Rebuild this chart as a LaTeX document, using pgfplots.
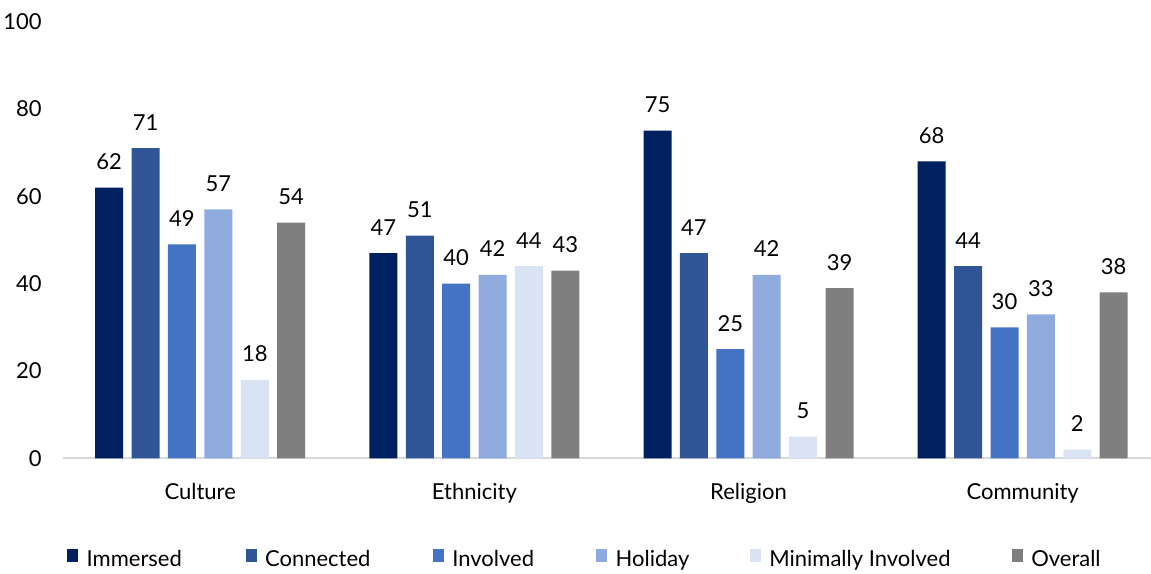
\documentclass[border=0pt]{standalone}
\usepackage{fontspec}
\setmainfont{Lato}
\usepackage{pgfplots}
\pgfplotsset{compat=1.18}
\definecolor{cImm}{HTML}{002060}
\definecolor{cCon}{HTML}{2F5597}
\definecolor{cInv}{HTML}{4472C4}
\definecolor{cHol}{HTML}{8FAADC}
\definecolor{cMin}{HTML}{DAE3F3}
\definecolor{cOve}{HTML}{7F7F7F}
\definecolor{axgray}{HTML}{D9D9D9}
\begin{document}
\begin{tikzpicture}[font=\fontsize{11}{13}\selectfont]
\path[use as bounding box] (-31.55pt,-57.75pt) rectangle (544pt,229.25pt);
\begin{axis}[
  at={(0,0)}, anchor=south west,
  scale only axis, width=544pt, height=218.5pt,
  xmin=-0.5, xmax=3.468, ymin=0, ymax=100,
  ybar=4.2pt, bar width=14pt,
  axis x line=bottom, axis y line=left,
  x axis line style={draw=axgray, line width=1pt, -},
  y axis line style={draw=none, -},
  major tick length=0pt,
  tick style={draw=none},
  ytick={0,20,...,100},
  xtick={0,1,2,3}, xticklabels={Culture,Ethnicity,Religion,Community},
  xticklabel style={anchor=base, inner sep=0pt, yshift=-20.75pt},
  yticklabel style={anchor=east, inner sep=0pt, xshift=-10.5pt},
  /pgf/number format/assume math mode=true,
  nodes near coords,
  every node near coord/.append style={anchor=base, inner sep=0pt, yshift=9pt, text=black},
  clip=false,
  legend columns=6,
  legend image code/.code={\fill[#1] (0pt,-0.3pt) rectangle (5.5pt,5.8pt); \path (9.7pt,0pt);},
  legend style={draw=none, fill=none, inner sep=0pt, outer sep=0pt,
    at={(0,0)}, anchor=north west, xshift=2.1pt, yshift=-45.5pt,
    nodes={inner sep=0pt, text height=8pt, text depth=2.5pt},
    /tikz/every even column/.style={column sep=0pt}},
  legend cell align=left,
  legend entries={\makebox[79.5pt][l]{Immersed}, \makebox[83.95pt][l]{Connected}, \makebox[72pt][l]{Involved}, \makebox[67.1pt][l]{Holiday}, \makebox[121.3pt][l]{Minimally Involved}, Overall},
]
\addplot[fill=cImm, draw=none] coordinates {(0,62) (1,47) (2,75) (3,68)};
\addplot[fill=cCon, draw=none] coordinates {(0,71) (1,51) (2,47) (3,44)};
\addplot[fill=cInv, draw=none] coordinates {(0,49) (1,40) (2,25) (3,30)};
\addplot[fill=cHol, draw=none] coordinates {(0,57) (1,42) (2,42) (3,33)};
\addplot[fill=cMin, draw=none] coordinates {(0,18) (1,44) (2,5) (3,2)};
\addplot[fill=cOve, draw=none] coordinates {(0,54) (1,43) (2,39) (3,38)};
\end{axis}
\end{tikzpicture}
\end{document}
